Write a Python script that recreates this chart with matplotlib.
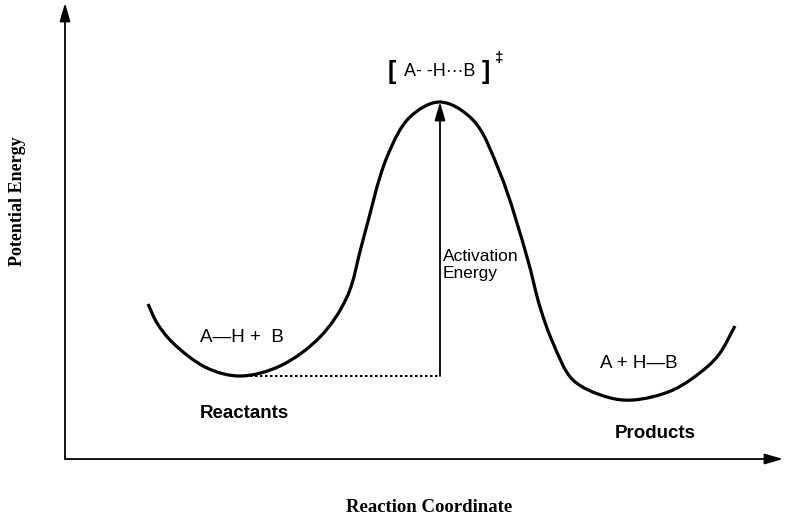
import numpy as np
import matplotlib
matplotlib.use("Agg")
import matplotlib.pyplot as plt
from matplotlib.path import Path
from matplotlib.patches import PathPatch

# reaction profile (reaction coordinate, potential energy)
coord = [8.3, 9.2, 10.8, 14.2, 17.5, 21.5, 25.5, 28.2, 29.8, 32.2, 34.5, 37.5,
         40.8, 43.5, 46.2, 47.5, 48.8, 50.8, 54.2, 56.8, 60.8, 64.2, 65.5, 67.0]
energy = [15.5, 13.6, 11.6, 9.1, 8.3, 9.3, 12.2, 16.2, 21.9, 30.2, 34.2, 35.7,
          33.9, 28.6, 20.2, 15.2, 11.6, 7.9, 6.2, 5.9, 6.9, 9.2, 10.6, 13.3]

reactant_idx = 4
ts_idx = 11

reactant_label = "A\u2014H +  B"
product_label = "A + H\u2014B"
ts_label = "A- -H\u00b7\u00b7\u00b7B"

sans = ["Liberation Sans", "DejaVu Sans"]
serif = ["Liberation Serif", "DejaVu Serif"]


def smooth_path(xs, ys, alpha=0.5):
    # centripetal catmull-rom through the read points, as cubic beziers
    p = np.column_stack([xs, ys])
    p = np.vstack([2 * p[0] - p[1], p, 2 * p[-1] - p[-2]])
    verts = [p[1]]
    codes = [Path.MOVETO]
    for i in range(1, len(p) - 2):
        p0, p1, p2, p3 = p[i - 1], p[i], p[i + 1], p[i + 2]
        d1 = np.hypot(*(p1 - p0)) ** alpha
        d2 = np.hypot(*(p2 - p1)) ** alpha
        d3 = np.hypot(*(p3 - p2)) ** alpha
        b1 = (d1 ** 2 * p2 - d2 ** 2 * p0 + (2 * d1 ** 2 + 3 * d1 * d2 + d2 ** 2) * p1) \
            / (3 * d1 * (d1 + d2))
        b2 = (d3 ** 2 * p1 - d2 ** 2 * p3 + (2 * d3 ** 2 + 3 * d3 * d2 + d2 ** 2) * p2) \
            / (3 * d3 * (d3 + d2))
        verts += [b1, b2, p2]
        codes += [Path.CURVE4] * 3
    return Path(verts, codes)


fig = plt.figure(figsize=(7.95, 5.2), dpi=100)
ax = fig.add_axes([65 / 795, 61 / 520, 718 / 795, 456 / 520])
ax.set_xlim(0, 71.8)
ax.set_ylim(0, 45.6)
ax.axis("off")

# axes with arrow heads
arrow_kw = dict(arrowstyle="-|>,head_length=0.55,head_width=0.16",
                color="black", lw=1.3, mutation_scale=20, shrinkA=0, shrinkB=0)
ax.annotate("", xy=(1, 0), xytext=(0, 0), xycoords="axes fraction",
            arrowprops=arrow_kw, annotation_clip=False)
ax.annotate("", xy=(0, 1), xytext=(0, 0), xycoords="axes fraction",
            arrowprops=arrow_kw, annotation_clip=False)

# energy curve
ax.add_patch(PathPatch(smooth_path(coord, energy), fill=False,
                       lw=2.3, color="black", capstyle="butt"))

# dotted reference line and activation arrow
ax.plot([coord[reactant_idx], coord[ts_idx]],
        [energy[reactant_idx], energy[reactant_idx]],
        ls=(0, (1.2, 1.2)), lw=1.5, color="black")
ax.annotate("", xy=(coord[ts_idx], energy[ts_idx]),
            xytext=(coord[ts_idx], energy[reactant_idx]),
            arrowprops=arrow_kw)

ax.text(37.8, 21.0, "Activation\nEnergy", ha="left", va="top",
        fontsize=12.5, family=sans, linespacing=1.2)

# species labels
ax.text(17.65, 12.1, reactant_label, ha="center", va="center",
        fontsize=13.5, family=sans)
ax.text(57.4, 9.6, product_label, ha="center", va="center",
        fontsize=13.5, family=sans)
ax.text(17.9, 4.6, "Reactants", ha="center", va="center",
        fontsize=13.5, family=sans, weight="bold")
ax.text(59.0, 2.6, "Products", ha="center", va="center",
        fontsize=13.5, family=sans, weight="bold")

# transition state
ax.text(37.5, 38.7, ts_label, ha="center", va="center",
        fontsize=13, family=sans)
ax.text(32.3, 38.75, "[", ha="left", va="center", fontsize=18, family=sans,
        weight="bold")
ax.text(42.5, 38.75, "]", ha="right", va="center", fontsize=18, family=sans,
        weight="bold")
ax.text(43.0, 40.1, "\u2021", ha="left", va="center", fontsize=11,
        family=sans, weight="bold")

fig.text(18 / 795, 1 - 201 / 520, "Potential Energy", rotation=90,
         ha="center", va="center", fontsize=13, family=serif, weight="bold")
fig.text(429 / 795, 1 - 508 / 520, "Reaction Coordinate", ha="center",
         va="center", fontsize=13.5, family=serif, weight="bold")

fig.savefig("out.png", dpi=100, facecolor="white")
